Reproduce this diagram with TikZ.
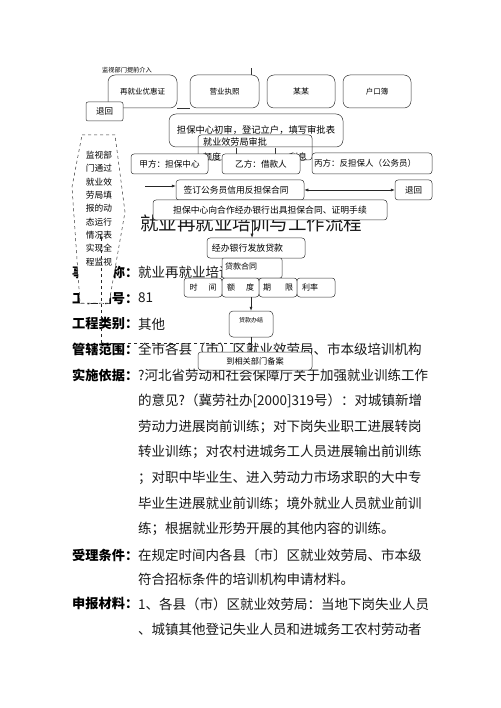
\documentclass[tikz,border=0pt]{standalone}
\usepackage{fontspec}
\setmainfont{Noto Sans CJK SC}
\usetikzlibrary{arrows.meta,calc}
\newcommand\fsz[1]{\fontsize{#1pt}{#1pt}\selectfont}
\tikzset{
  bx/.style={draw=black!80, line width=0.5pt, rounded corners=3pt, inner sep=0pt, fill=white, align=center},
  bxo/.style={draw=black!80, line width=0.5pt, rounded corners=3pt, inner sep=0pt},
  tbox/.style={bx, rounded corners=7pt, minimum width=69pt, minimum height=33pt, font=\fsz{7.5}},
  txt/.style={inner sep=0pt},
  arr/.style={-{Latex[length=4pt,width=3pt]}, line width=0.5pt, draw=black!85},
  body/.style={anchor=west, inner sep=0pt, font=\fsz{13.5}, text=black!90},
  lab/.style={anchor=west, inner sep=0pt, font=\fsz{13.2}\bfseries},
}
\begin{document}
\begin{tikzpicture}[x=1pt,y=-1pt]
\useasboundingbox (0,0) rectangle (500,708);
\fill[white] (0,0) rectangle (500,708);

% ---------- body text ----------
\node[txt, font=\fsz{18.5}, text=black!90] (title) at (251,223) {就业再就业培训与工作流程};
\node[lab] (l1) at (72,272) {事项名称：};
\node[body] (c1) at (138,272) {就业再就业培训};
\node[lab] (l2) at (72,298) {工程编号：};
\node[body] (c2) at (138,298) {81};
\node[lab] (l3) at (72,324) {工程类别：};
\node[body] (c3) at (138,324) {其他};
\node[lab] (l4) at (72,349) {管辖范围：};
\node[body] (c4) at (138,349) {全市各县（市）区就业效劳局、市本级培训机构};
\node[lab] (l5) at (72,375) {实施依据：};
\node[body] (c5a) at (138,375) {?河北省劳动和社会保障厅关于加强就业训练工作};
\node[body] (c5b) at (138,401) {的意见?（冀劳社办[2000]319号）：对城镇新增};
\node[body] (c5c) at (138,427) {劳动力进展岗前训练；对下岗失业职工进展转岗};
\node[body] (c5d) at (138,452) {转业训练；对农村进城务工人员进展输出前训练};
\node[body] (c5e) at (138,478) {；对职中毕业生、进入劳动力市场求职的大中专};
\node[body] (c5f) at (138,504) {毕业生进展就业前训练；境外就业人员就业前训};
\node[body] (c5g) at (138,529) {练；根据就业形势开展的其他内容的训练。};
\node[lab] (l6) at (72,555) {受理条件：};
\node[body] (c6a) at (138,555) {在规定时间内各县〔市〕区就业效劳局、市本级};
\node[body] (c6b) at (138,579) {符合招标条件的培训机构申请材料。};
\node[lab] (l7) at (72,604) {申报材料：};
\node[body] (c7a) at (138,604) {1、各县（市）区就业效劳局：当地下岗失业人员};
\node[body] (c7b) at (138,629) {、城镇其他登记失业人员和进城务工农村劳动者};

% ---------- top row ----------
\node[txt, anchor=west, font=\fsz{6.2}] (jieru) at (102,70) {监视部门提前介入};
\node[tbox] (zaijiuye) at (142.5,91.5) {再就业优惠证};
\node[tbox] (yingye) at (224.5,91.5) {营业执照};
\node[tbox, minimum width=68pt, font=\fsz{8}] (moumou) at (301,91.5) {某某};
\node[tbox, minimum width=68pt] (hukou) at (377,91.5) {户口簿};
\coordinate (ytop) at (251,68);
\draw[line width=0.5pt, black!80] (yingye.north -| ytop) -- (ytop);
\draw[line width=0.5pt, black!80] (zaijiuye.south east) -- (yingye.south west);
\node[bx, rounded corners=2pt, minimum width=37pt, minimum height=19pt, font=\fsz{8.5}] (tuihui1) at (104.5,111.5) {退回};

% ---------- approval block ----------
\node[bxo, rounded corners=7pt, minimum width=174pt, minimum height=33pt, font=\fsz{9.3}] (chushen) at (256,130.5) {担保中心初审，登记立户，填写审批表};
\node[bxo, minimum width=114pt, minimum height=25pt] (shenpi) at (255,147.5) {};
\node[txt, font=\fsz{9.1}] (shenpit) at (235,142) {就业效劳局审批};
\draw[line width=0.5pt, black!80] (236,148) -- (236,156) (275,148) -- (275,156);
\node[txt, font=\fsz{9}] (edut) at (212,157) {额度};
\node[txt, font=\fsz{9}] (lixit) at (298,157) {利息};
\node[bx, minimum width=77pt, minimum height=20pt, font=\fsz{8.6}] (jiafang) at (169.5,164) {甲方：担保中心};
\node[bx, minimum width=78pt, minimum height=20pt, font=\fsz{8.6}] (yifang) at (261,164) {乙方：借款人};
\node[bx, minimum width=120pt, minimum height=21pt, font=\fsz{8.5}] (bingfang) at (372,163.5) {丙方：反担保人（公务员）\hspace{14pt}};

% ---------- contract row ----------
\node[bx, minimum width=128pt, minimum height=20pt, font=\fsz{8.75}] (qianding) at (240,190) {签订公务员信用反担保合同\hspace{8pt}};
\node[bx, minimum width=37pt, minimum height=20pt, font=\fsz{8.5}] (tuihui2) at (413.5,190) {退回};
\coordinate (instart) at (145,186);
\draw[arr] (instart) -- (instart -| qianding.west);
\draw[{Latex[length=4pt,width=3pt]}-{Latex[length=4pt,width=3pt]}, line width=0.5pt, black!85] (qianding.east) -- (tuihui2.west);

\node[bx, minimum width=234pt, minimum height=20pt, font=\fsz{8.8}] (chuju) at (270,210) {担保中心向合作经办银行出具担保合同、证明手续};

% ---------- left dashed monitor ----------
\draw[dashed, line width=0.5pt, black!80, fill=white] (82,135) -- (115,135) -- (125,212) -- (109,303) -- (80,303) -- (72,187) -- cycle;
\node[txt, align=center, font=\fontsize{8.7pt}{13.3pt}\selectfont] (jiance) at (99,208.5) {监视部\\门通过\\就业效\\劳局填\\报的动\\态运行\\情况表\\实现全\\程监视};

% ---------- loan block ----------
\node[bx, minimum width=98pt, minimum height=20pt] (jingban) at (256,248) {};
\node[txt, font=\fsz{8.9}] (jingbant) at (247.5,248) {经办银行发放贷款};
\node[bx, rounded corners=2pt, minimum width=60pt, minimum height=20pt] (hetong) at (252,268) {};
\node[txt, font=\fsz{8}] (hetongt) at (241,266) {贷款合同};
\node[bx, minimum width=38pt, minimum height=19pt, font=\fsz{8}] (shijian) at (203,287.5) {\makebox[27pt][s]{时\hfill 间}};
\node[bx, minimum width=37pt, minimum height=19pt, font=\fsz{8}] (edu) at (240.5,287.5) {\makebox[27pt][s]{额\hfill 度}};
\node[bx, minimum width=38pt, minimum height=19pt, font=\fsz{8}] (qixian) at (278,287.5) {\makebox[30pt][s]{期\hfill 限}};
\node[bx, minimum width=38pt, minimum height=19pt, font=\fsz{8}] (lilv) at (316,287.5) {利率\hspace{12pt}};
\draw[arr] (chuju.south -| 252,0) -- (jingban.north -| 252,0);
\node[bx, rounded corners=4pt, minimum width=44pt, minimum height=26pt] (banjie) at (251,324) {};
\node[txt, font=\fsz{6}] (banjiet) at (251,320) {贷款办结};
\draw[arr] (edu.south -| banjie.north) -- (banjie.north);
\node[bx, minimum width=114pt, minimum height=18pt, font=\fsz{8.2}] (beian) at (255,361) {到相关部门备案};
\draw[arr] (banjie.south) -- (beian.north -| banjie.south);
\coordinate (dj) at ($(banjie.south)!0.4!(beian.north -| banjie.south)$);
\coordinate (jtip) at (101,235);
\draw[arr, dashed] (dj) -| (jtip);
\end{tikzpicture}
\end{document}
